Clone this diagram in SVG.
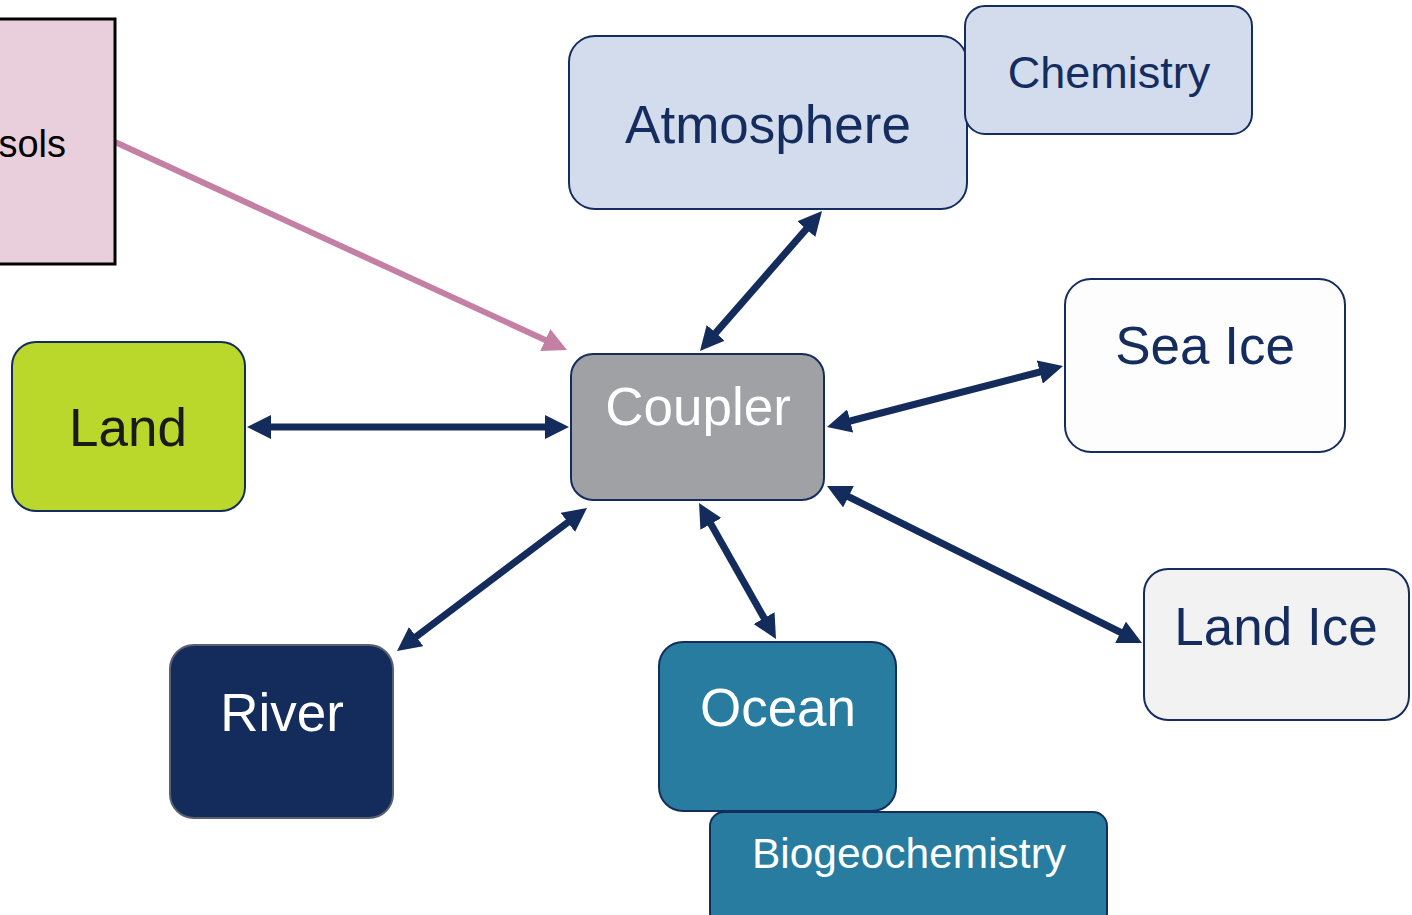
<svg xmlns="http://www.w3.org/2000/svg" width="1412" height="915" viewBox="0 0 1412 915">
  <defs>
    <style>
      .box { stroke: #142d5e; stroke-width: 2; }
      .lbl { font-family: "Liberation Sans", Arial, sans-serif; text-anchor: middle; }
      .dark { fill: #142d5e; }
      .light { fill: #ffffff; }
      .link { stroke: #132c5c; stroke-width: 7; fill: none; marker-start: url(#head); marker-end: url(#head); }
    </style>
    <!-- solid triangular head; tip sits 18px beyond the line end -->
    <marker id="head" viewBox="0 0 24 24" refX="6" refY="12" markerWidth="24" markerHeight="24" markerUnits="userSpaceOnUse" orient="auto-start-reverse">
      <path d="M0,0 L24,12 L0,24 Z" fill="#132c5c"/>
    </marker>
    <marker id="pinkhead" viewBox="0 0 24 24" refX="6" refY="12" markerWidth="24" markerHeight="24" markerUnits="userSpaceOnUse" orient="auto">
      <path d="M0,0 L24,12 L0,24 Z" fill="#c47fa5"/>
    </marker>
  </defs>

  <rect width="1412" height="915" fill="#ffffff"/>

  <!-- links between components and the coupler -->
  <g id="connectors">
    <line x1="115" y1="142" x2="550.7" y2="342.5" stroke="#c47fa5" stroke-width="6" marker-end="url(#pinkhead)"/>
    <line class="link" x1="810.2" y1="224.6" x2="711.8" y2="337.4"/>
    <line class="link" x1="265" y1="427" x2="551" y2="427"/>
    <line class="link" x1="844.4" y1="422.5" x2="1045.6" y2="370.5"/>
    <line class="link" x1="843.1" y1="494" x2="1125.9" y2="635"/>
    <line class="link" x1="707.9" y1="518.7" x2="767.1" y2="623.3"/>
    <line class="link" x1="572.6" y1="518.8" x2="411.4" y2="640.2"/>
  </g>

  <g id="aerosols">
    <rect x="-20" y="19" width="135" height="245" fill="#e9cfdb" stroke="#000000" stroke-width="3"/>
    <text x="66" y="157" font-family="Liberation Sans, Arial, sans-serif" font-size="38" text-anchor="end" fill="#000000">sols</text>
  </g>

  <g id="atmosphere">
    <rect class="box" x="569" y="36" width="398" height="173" rx="26" fill="#d3dcec"/>
    <text class="lbl dark" x="768" y="143" font-size="53">Atmosphere</text>
  </g>

  <g id="chemistry">
    <rect class="box" x="965" y="6" width="287" height="128" rx="20" fill="#d3dcec"/>
    <text class="lbl dark" x="1109" y="88" font-size="45">Chemistry</text>
  </g>

  <g id="sea-ice">
    <rect class="box" x="1065" y="279" width="280" height="173" rx="26" fill="#fdfdfd"/>
    <text class="lbl dark" x="1205" y="364" font-size="53">Sea Ice</text>
  </g>

  <g id="land-ice">
    <rect class="box" x="1144" y="569" width="265" height="151" rx="24" fill="#f2f2f2"/>
    <text class="lbl dark" x="1276" y="645" font-size="53">Land Ice</text>
  </g>

  <g id="coupler">
    <rect class="box" x="571" y="354" width="253" height="146" rx="22" fill="#a0a1a5"/>
    <text class="lbl light" x="698" y="425" font-size="53">Coupler</text>
  </g>

  <g id="land">
    <rect class="box" x="12" y="342" width="233" height="169" rx="24" fill="#bad72c"/>
    <text class="lbl" x="128" y="446" font-size="53" fill="#1a1a1a">Land</text>
  </g>

  <g id="river">
    <rect x="170" y="645" width="223" height="173" rx="24" fill="#132c5c" stroke="#5a6070" stroke-width="2"/>
    <text class="lbl light" x="282" y="731" font-size="53">River</text>
  </g>

  <g id="ocean">
    <rect class="box" x="659" y="642" width="237" height="169" rx="24" fill="#287c9f"/>
    <text class="lbl light" x="778" y="726" font-size="53">Ocean</text>
  </g>

  <g id="biogeochemistry">
    <rect class="box" x="710" y="812" width="397" height="115" rx="14" fill="#287c9f"/>
    <text class="lbl light" x="909" y="868" font-size="42.5">Biogeochemistry</text>
  </g>
</svg>
